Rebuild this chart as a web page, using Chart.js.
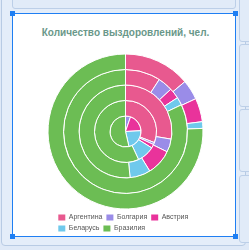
<!DOCTYPE html>
<html lang="ru">
<head>
<meta charset="utf-8">
<script src="https://cdn.jsdelivr.net/npm/chart.js@4.4.0/dist/chart.umd.min.js"></script>
<style>
  body { margin: 0; width: 249px; height: 250px; overflow: hidden; background: #dfe9f7; position: relative; }
  .outer { position: absolute; left: 1px; top: -4px; width: 243px; height: 248px; border: 1px solid #b8cbe4; border-radius: 4px; background: #e4edf9; }
  .top-panel { position: absolute; left: 12px; top: -4px; width: 222px; height: 11px; border: 1px solid #bccfe8; border-radius: 3px; background: #e1ebf8; }
  .side { position: absolute; left: 239px; width: 14px; border: 1px solid #bccfe8; border-radius: 3px; background: #e1ebf8; }
  .panel { position: absolute; left: 12px; top: 13px; width: 222px; height: 222px; border: 1px solid #1f7ff3; background: #fff; }
  .handle { position: absolute; width: 5px; height: 5px; background: #1f7ff3; }
  #titulo { position: absolute; left: 0; top: 27px; width: 251px; text-align: center;
            font: bold 10px/12px 'Liberation Sans', Arial, sans-serif; color: #6a988a; white-space: nowrap; }
  #wrap { position: absolute; left: 13px; top: 14px; width: 225px; height: 228px; }
</style>
</head>
<body>
<div class="outer"></div>
<div class="top-panel"></div>
<div class="side" style="top:-4px;height:44px"></div>
<div class="side" style="top:44px;height:61px"></div>
<div class="side" style="top:109px;height:61px"></div>
<div class="side" style="top:175px;height:66px"></div>
<div class="panel"></div>
<div id="titulo"></div>
<div id="wrap"><canvas id="grafico" width="225" height="228"></canvas></div>
<div class="handle" style="left:10px;top:11px"></div>
<div class="handle" style="left:233px;top:11px"></div>
<div class="handle" style="left:10px;top:234px"></div>
<div class="handle" style="left:233px;top:234px"></div>

<script>
  // Страны (подписи легенды)
  const strany = ['Аргентина', 'Болгария', 'Австрия', 'Беларусь', 'Бразилия'];
  const cveta = ['#e8598f', '#9a8ce8', '#e9339b', '#6fc9ec', '#6cbd54'];

  // Кольца, от внешнего к внутреннему
  const kolco1 = [500, 150, 177, 50, 2723];
  const kolco2 = [330, 140, 100, 75, 2955];
  const kolco3 = [995, 165, 325, 258, 1857];
  const kolco4 = [1110, 40, 70, 330, 2050];
  const kolco5 = [0, 190, 680, 800, 1930];

  const titulo = 'Количество выздоровлений, чел.';
  document.getElementById('titulo').textContent = titulo;

  function nabor(dannye) {
    return {
      data: dannye,
      backgroundColor: cveta,
      borderColor: '#fff',
      borderWidth: 1
    };
  }

  const ctx = document.getElementById('grafico').getContext('2d');
  new Chart(ctx, {
    type: 'doughnut',
    data: {
      labels: strany,
      datasets: [kolco1, kolco2, kolco3, kolco4, kolco5].map(nabor)
    },
    options: {
      responsive: false,
      devicePixelRatio: 1,
      animation: false,
      cutout: 0,
      radius: 77.5,
      // поля слева/справа, чтобы легенда шла в две строки
      layout: { padding: { top: 39, left: 41.3, right: 41.3, bottom: 0 } },
      plugins: {
        legend: {
          position: 'bottom',
          align: 'start',
          labels: {
            boxWidth: 7,
            boxHeight: 6,
            padding: 4,
            color: '#555',
            font: { family: 'Liberation Sans', size: 7 },
            // без белой рамки у квадратиков
            generateLabels: (chart) =>
              Chart.overrides.doughnut.plugins.legend.labels.generateLabels(chart)
                .map(l => ({ ...l, lineWidth: 0 }))
          }
        },
        tooltip: { enabled: false }
      }
    }
  });
</script>
</body>
</html>
